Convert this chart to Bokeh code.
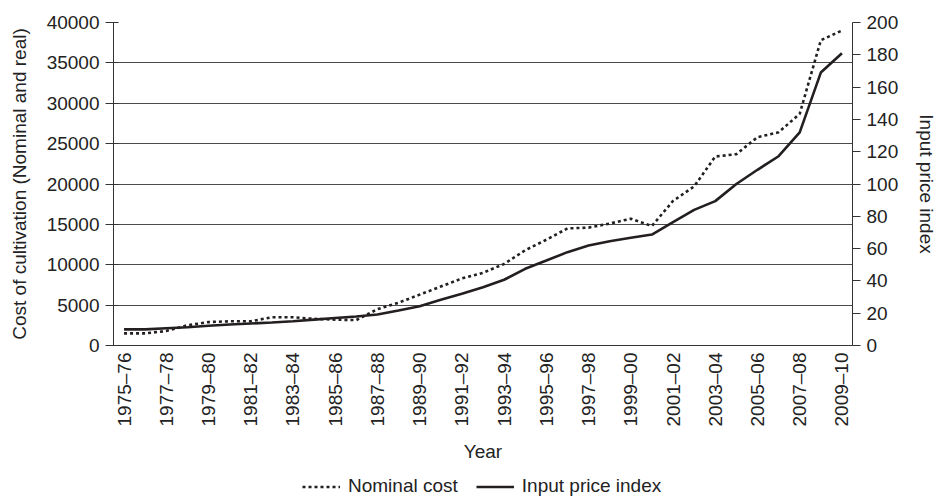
from bokeh.plotting import figure
from bokeh.layouts import column
from bokeh.models import Range1d, LinearAxis, FixedTicker, Legend, LegendItem
from bokeh.embed import file_html
from bokeh.resources import INLINE
from math import pi

years = ["1975–76", "1976–77", "1977–78", "1978–79", "1979–80", "1980–81", "1981–82",
         "1982–83", "1983–84", "1984–85", "1985–86", "1986–87", "1987–88", "1988–89",
         "1989–90", "1990–91", "1991–92", "1992–93", "1993–94", "1994–95", "1995–96",
         "1996–97", "1997–98", "1998–99", "1999–00", "2000–01", "2001–02", "2002–03",
         "2003–04", "2004–05", "2005–06", "2006–07", "2007–08", "2008–09", "2009–10"]

nominal_cost = [1500, 1500, 1800, 2500, 2900, 3000, 3000, 3500, 3500, 3300, 3200, 3150,
                4500, 5300, 6300, 7300, 8300, 9000, 10100, 11800, 13100, 14500, 14600,
                15100, 15700, 14800, 17900, 19700, 23400, 23700, 25800, 26400, 28700,
                37800, 39000]

input_price_index = [10, 10, 10.7, 11.3, 12.2, 13, 13.6, 14.2, 15, 16, 17, 18, 19.2, 21.7,
                     24.3, 28.3, 32, 36.1, 40.7, 47.5, 52.6, 57.8, 61.9, 64.6, 66.7, 68.7,
                     76.4, 84, 89.4, 100, 108.8, 117.2, 132, 169, 181]

series_labels = ["Nominal cost", "Input price index"]
left_ticks = [0, 5000, 10000, 15000, 20000, 25000, 30000, 35000, 40000]
right_ticks = [0, 20, 40, 60, 80, 100, 120, 140, 160, 180, 200]

idx = list(range(len(years)))
FONT = "Liberation Sans"
TXT = "#222222"
LINE = "#231f20"
FS = "19px"

p = figure(frame_width=739, frame_height=323, output_backend="svg", toolbar_location=None,
           x_range=Range1d(-0.5, len(years) - 0.5), y_range=Range1d(0, 40000),
           min_border_left=113, min_border_right=84, min_border_top=22, min_border_bottom=129)
p.outline_line_color = None
p.background_fill_color = "white"
p.border_fill_color = "white"

p.extra_y_ranges = {"index": Range1d(0, 200)}

p.xgrid.visible = False
p.ygrid.ticker = FixedTicker(ticks=left_ticks)
p.ygrid.grid_line_color = "#4a4a4a"
p.ygrid.grid_line_width = 1

# x axis
xa = p.xaxis[0]
xa.ticker = FixedTicker(ticks=idx[::2])
xa.major_label_overrides = {i: years[i] for i in idx}
xa.major_label_orientation = pi / 2
xa.major_tick_out = 0
xa.major_tick_in = 0
xa.minor_tick_out = 0
xa.minor_tick_in = 0
xa.axis_line_color = "#333333"
xa.major_label_standoff = 7
xa.axis_label = "Year"
xa.axis_label_standoff = 12

# left axis
ya = p.yaxis[0]
ya.ticker = FixedTicker(ticks=left_ticks)
ya.major_tick_out = 8
ya.major_tick_in = 5
ya.minor_tick_out = 0
ya.minor_tick_in = 0
ya.axis_line_color = "#333333"
ya.major_tick_line_color = "#333333"
ya.major_label_standoff = 6
ya.axis_label = "Cost of cultivation (Nominal and real)"
ya.axis_label_standoff = 14

# right axis
ra = LinearAxis(y_range_name="index", ticker=FixedTicker(ticks=right_ticks))
ra.major_tick_out = 8
ra.major_tick_in = 0
ra.minor_tick_out = 0
ra.minor_tick_in = 0
ra.axis_line_color = "#333333"
ra.major_tick_line_color = "#333333"
ra.major_label_standoff = 6
ra.axis_label = "Input price index"
ra.axis_label_standoff = 15
p.add_layout(ra, "right")

for ax in [xa, ya, ra]:
    ax.major_label_text_font = FONT
    ax.major_label_text_font_size = FS
    ax.major_label_text_color = TXT
    ax.axis_label_text_font = FONT
    ax.axis_label_text_font_size = FS
    ax.axis_label_text_font_style = "normal"
    ax.axis_label_text_color = TXT

p.line(idx, nominal_cost, line_color=LINE, line_width=2.6, line_dash="3 3")
p.line(idx, input_price_index, y_range_name="index", line_color=LINE, line_width=2.6)

# legend strip below the chart (its frame is aligned with the main frame by the column)
p2 = figure(width=936, height=26, output_backend="svg", toolbar_location=None,
            x_axis_type=None, y_axis_type=None, min_border=0,
            x_range=Range1d(0, 1), y_range=Range1d(0, 1))
p2.outline_line_color = None
p2.grid.visible = False
# same series, but outside this strip's visible range: only their legend samples show
k_nom = p2.line(idx, nominal_cost, line_color=LINE, line_width=2.6, line_dash="3 3")
k_idx = p2.line(idx, input_price_index, line_color=LINE, line_width=2.6)

legend = Legend(items=[LegendItem(label=series_labels[0], renderers=[k_nom]),
                       LegendItem(label=series_labels[1], renderers=[k_idx])],
                orientation="horizontal", location=(189, 3))
legend.padding = 0
legend.margin = 0
legend.spacing = 18
legend.glyph_width = 38
legend.glyph_height = 19
legend.label_height = 19
legend.label_standoff = 8
legend.label_text_font = FONT
legend.label_text_font_size = FS
legend.label_text_color = TXT
legend.border_line_color = None
legend.background_fill_alpha = 0
p2.add_layout(legend, "center")

open("out.html", "w").write(file_html(column(p, p2, spacing=0), INLINE))
